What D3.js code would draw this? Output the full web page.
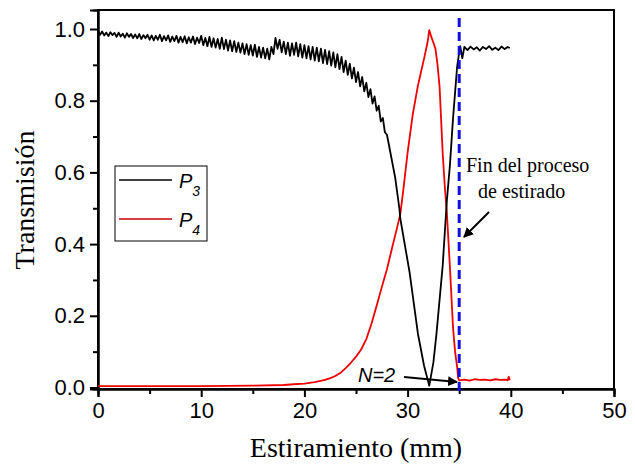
<!DOCTYPE html>
<html><head><meta charset="utf-8">
<script src="https://cdn.jsdelivr.net/npm/d3@7"></script>
<style>body{margin:0;background:#fff}</style>
</head><body>
<svg id="chart" width="635" height="464"></svg>
<script>
// ---- data ----
// P3 noisy part sampled every 0.2 mm from 0 to 28.0, then the dip and plateau
const p3NoisyStart = 0, p3NoisyStep = 0.2;
const p3Noisy = [
0.996,0.984,0.993,0.982,0.990, 0.980,0.991,0.983,0.989,0.978,
0.990,0.979,0.987,0.976,0.988, 0.978,0.986,0.975,0.985,0.974,
0.986,0.972,0.983,0.974,0.984, 0.970,0.982,0.968,0.981,0.970,
0.984,0.966,0.980,0.968,0.982, 0.964,0.979,0.966,0.981,0.962,
0.978,0.963,0.980,0.960,0.977, 0.962,0.979,0.958,0.976,0.961,
0.981,0.955,0.975,0.952,0.978, 0.950,0.974,0.948,0.972,0.945,
0.976,0.944,0.970,0.940,0.968, 0.938,0.966,0.936,0.962,0.934,
0.960,0.930,0.958,0.928,0.955, 0.926,0.956,0.922,0.950,0.920,
0.948,0.918,0.945,0.915,0.950, 0.930,0.975,0.945,0.970,0.935,
0.965,0.930,0.962,0.925,0.960, 0.928,0.962,0.924,0.958,0.920,
0.955,0.918,0.952,0.915,0.950, 0.912,0.948,0.910,0.945,0.905,
0.942,0.902,0.938,0.898,0.935, 0.893,0.930,0.888,0.922,0.880,
0.912,0.872,0.903,0.862,0.892, 0.852,0.880,0.840,0.866,0.826,
0.850,0.810,0.832,0.792,0.812, 0.772,0.786,0.742,0.752,0.712,
0.705];
const p3TailX = [28.4,28.8,29.2,29.3,30.2,31.0,31.6,32.1,32.5,32.8,33.4,33.8,34.1,34.4,34.8,35.0,35.1,35.3,35.5,35.8,36.1,36.4,36.7,37.0,37.3,37.6,37.9,38.2,38.5,38.8,39.1,39.4,39.7,39.9];
const p3TailY = [0.645,0.585,0.500,0.470,0.320,0.150,0.060,0.005,0.070,0.150,0.340,0.520,0.620,0.750,0.895,0.935,0.952,0.918,0.950,0.941,0.951,0.943,0.949,0.940,0.950,0.944,0.952,0.942,0.948,0.941,0.951,0.944,0.950,0.947];
const p4X = [0,5,10,15,18,19,20,21,22,22.5,23,23.5,24,24.5,25,25.5,26,26.5,27,27.5,28,28.5,29,29.3,29.6,30,30.5,31,31.3,31.6,31.9,32.0,32.1,32.3,32.5,32.7,32.9,33.1,33.4,33.6,33.8,34.1,34.4,34.6,34.8,34.9,35.0,35.5,36.0,36.5,37.0,37.5,38.0,38.5,39.0,39.5,39.7,39.8,39.9];
const p4Y = [0.004,0.004,0.004,0.005,0.007,0.009,0.011,0.015,0.021,0.026,0.032,0.041,0.054,0.069,0.086,0.106,0.135,0.178,0.228,0.280,0.330,0.390,0.448,0.485,0.555,0.655,0.762,0.842,0.880,0.918,0.958,0.975,0.997,0.978,0.962,0.945,0.900,0.838,0.654,0.562,0.490,0.336,0.168,0.100,0.057,0.026,0.020,0.022,0.019,0.023,0.021,0.022,0.020,0.023,0.021,0.022,0.020,0.030,0.020];
const xTicks = [0,10,20,30,40,50];
const xMinor = [5,15,25,35,45];
const yTicks = [0.0,0.2,0.4,0.6,0.8,1.0];
const yMinor = [0.1,0.3,0.5,0.7,0.9];
const seriesNames = ["3","4"];
const endStretch = 35;

const svg = d3.select("#chart");
const x = d3.scaleLinear().domain([0,50]).range([98,614]);
const y = d3.scaleLinear().domain([-0.0042,1.053]).range([389,10]);

svg.append("rect").attr("x",98).attr("y",10).attr("width",516).attr("height",379)
  .attr("fill","none").attr("stroke","#000").attr("stroke-width",2);

const sans = "'Liberation Sans', Arial, sans-serif";
const serif = "'Liberation Serif', 'Times New Roman', serif";

const gx = svg.append("g").attr("transform","translate(0,389)")
  .call(d3.axisBottom(x).tickValues(xTicks).tickFormat(d3.format("d")).tickSize(8).tickPadding(5));
const gxm = svg.append("g").attr("transform","translate(0,389)")
  .call(d3.axisBottom(x).tickValues(xMinor).tickFormat("").tickSize(5));
const gy = svg.append("g").attr("transform","translate(98,0)")
  .call(d3.axisLeft(y).tickValues(yTicks).tickFormat(d3.format(".1f")).tickSize(8).tickPadding(5));
const gym = svg.append("g").attr("transform","translate(98,0)")
  .call(d3.axisLeft(y).tickValues(yMinor).tickFormat("").tickSize(5));
[gx,gxm,gy,gym].forEach(g=>{
  g.select(".domain").attr("stroke-width",2);
  g.selectAll(".tick line").attr("stroke-width",2);
  g.selectAll("text").attr("font-family",sans).attr("font-size",22).attr("fill","#000");
});

const line = d3.line().x(d=>x(d[0])).y(d=>y(d[1]));
const p3 = p3Noisy.map((v,i)=>[p3NoisyStart + i*p3NoisyStep, v])
  .concat(p3TailX.map((v,i)=>[v,p3TailY[i]]));
const p4 = p4X.map((v,i)=>[v,p4Y[i]]);
svg.append("path").datum(p4).attr("d",line).attr("fill","none").attr("stroke","#ee0000").attr("stroke-width",1.8).attr("stroke-linejoin","round");
svg.append("path").datum(p3).attr("d",line).attr("fill","none").attr("stroke","#000").attr("stroke-width",1.8).attr("stroke-linejoin","round");

svg.append("line").attr("x1",x(endStretch)).attr("x2",x(endStretch)).attr("y1",18).attr("y2",393)
  .attr("stroke","#1010e0").attr("stroke-width",3).attr("stroke-dasharray","9,5");

const defs = svg.append("defs");
defs.append("marker").attr("id","ah").attr("viewBox","0 0 10 10").attr("refX",9).attr("refY",5)
  .attr("markerWidth",5).attr("markerHeight",5).attr("orient","auto")
  .append("path").attr("d","M0,0 L10,5 L0,10 z").attr("fill","#000");
svg.append("line").attr("x1",489).attr("y1",212).attr("x2",464).attr("y2",237)
  .attr("stroke","#000").attr("stroke-width",2).attr("marker-end","url(#ah)");
svg.append("line").attr("x1",404).attr("y1",377).attr("x2",457).attr("y2",382)
  .attr("stroke","#000").attr("stroke-width",2).attr("marker-end","url(#ah)");

svg.append("text").attr("x",466).attr("y",172).attr("font-family",serif).attr("font-size",20).text("Fin del proceso");
svg.append("text").attr("x",478).attr("y",198).attr("font-family",serif).attr("font-size",20).text("de estirado");
svg.append("text").attr("x",358).attr("y",382).attr("font-family",sans).attr("font-style","italic").attr("font-size",20).text("N=2");

svg.append("text").attr("x",356).attr("y",457).attr("text-anchor","middle").attr("font-family",serif).attr("font-size",28).text("Estiramiento (mm)");
svg.append("text").attr("transform","translate(34,200) rotate(-90)").attr("text-anchor","middle").attr("font-family",serif).attr("font-size",28).text("Transmisión");

const lg = svg.append("g");
lg.append("rect").attr("x",115).attr("y",166).attr("width",92).attr("height",75).attr("fill","#fff").attr("stroke","#000").attr("stroke-width",1);
const colors = ["#000","#cc0000"];
seriesNames.forEach((s,i)=>{
  const yy = 180 + i*39;
  lg.append("line").attr("x1",119).attr("x2",172).attr("y1",yy).attr("y2",yy).attr("stroke",colors[i]).attr("stroke-width",1.5);
  const t = lg.append("text").attr("x",179).attr("y",yy+8).attr("font-family",sans).attr("font-style","italic").attr("font-size",20);
  t.append("tspan").text("P");
  t.append("tspan").attr("dy",8).attr("font-size",14).text(s);
});
</script>
</body></html>
